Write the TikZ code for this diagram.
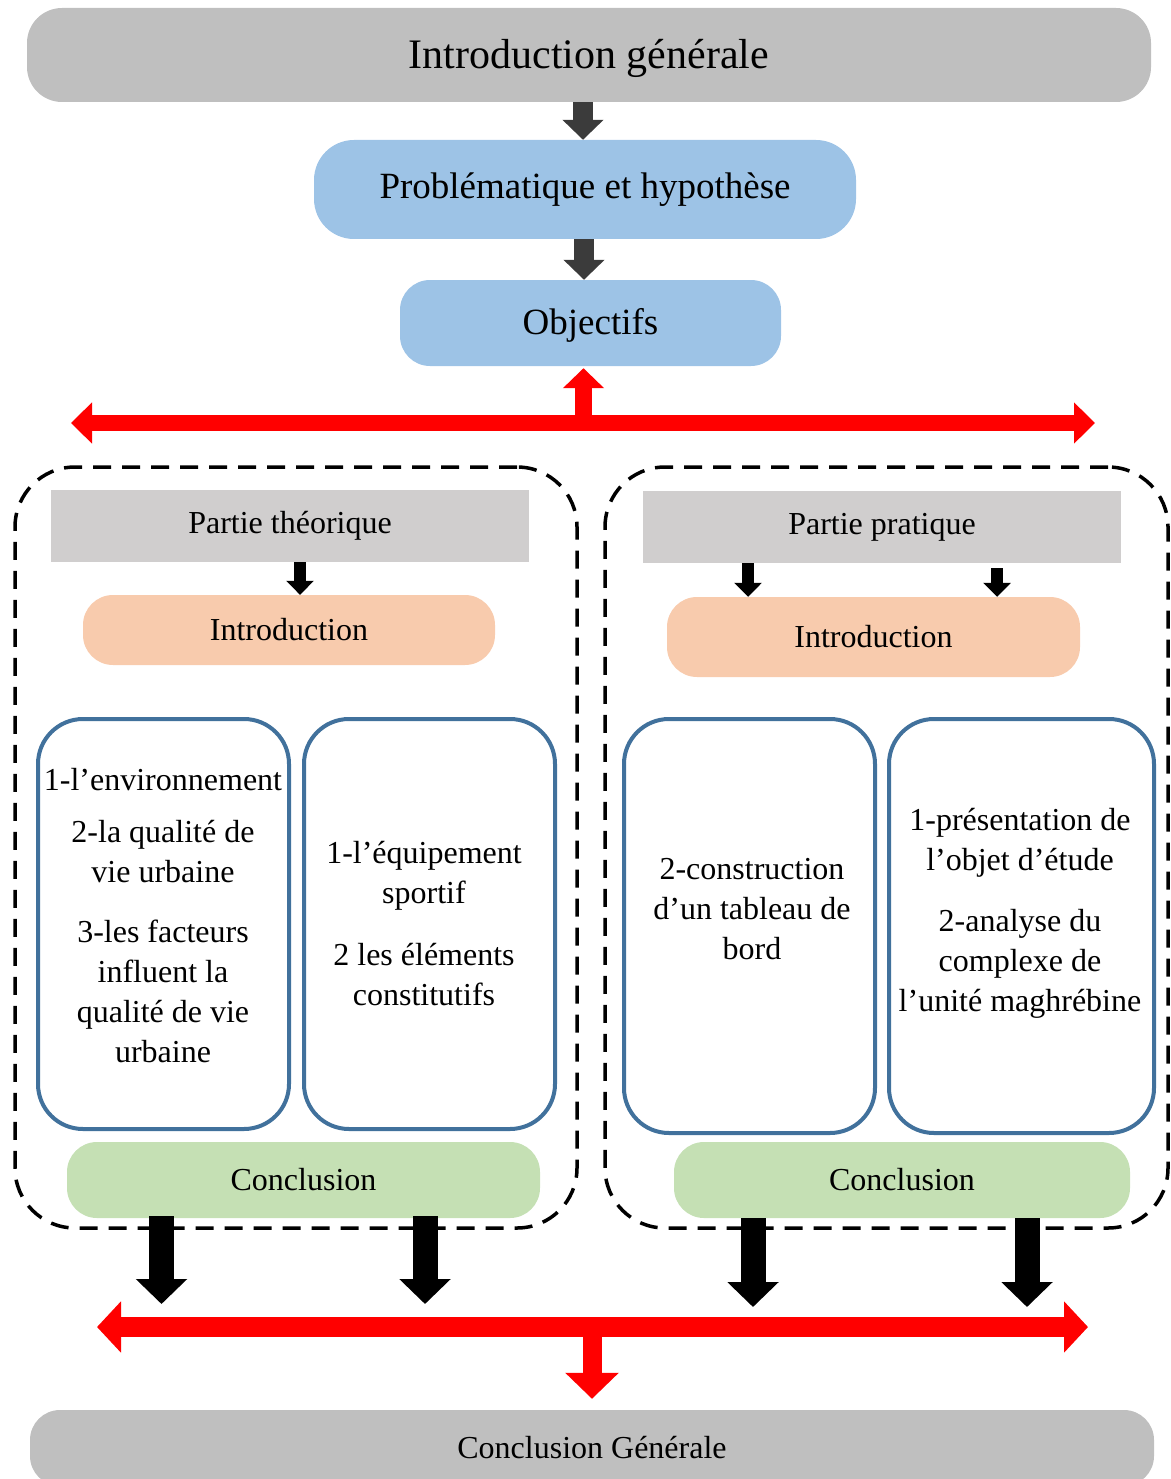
\documentclass[tikz,border=0pt]{standalone}
\usepackage{fontspec}
\setmainfont{Liberation Serif}
\usetikzlibrary{arrows.meta}
\definecolor{titlegray}{HTML}{BFBFBF}
\definecolor{lblue}{HTML}{9DC3E6}
\definecolor{pgray}{HTML}{D0CECE}
\definecolor{peach}{HTML}{F8CBAD}
\definecolor{lgreen}{HTML}{C5E0B4}
\definecolor{bstroke}{HTML}{41719C}
\definecolor{darkar}{HTML}{3B3B3B}
\definecolor{redar}{HTML}{FF0000}
\tikzset{
  fnt/.style={font=\fontsize{32}{40}\selectfont},
  txt/.style={fnt, align=center, inner sep=0pt},
  fillbox/.style={inner sep=0pt, text=black},
  darrow/.style={draw=darkar, line width=20pt, -{Triangle[length=20pt,width=40pt]}},
  smarrow/.style={draw=black, line width=12pt, -{Triangle[length=14pt,width=27pt]}},
  bigarrow/.style={draw=black, line width=25pt, -{Triangle[length=25pt,width=50pt]}},
  redup/.style={draw=redar, line width=17pt, -{Triangle[length=20pt,width=40pt]}},
  reddown/.style={draw=redar, line width=19pt, -{Triangle[length=26pt,width=52pt]}},
  dashbox/.style={draw=black, line width=3.5pt, dash pattern=on 18pt off 11pt, rounded corners=60pt, inner sep=0pt},
  bluebox/.style={draw=bstroke, line width=4pt, rounded corners=45pt, fill=white, inner sep=0pt},
}
\begin{document}
\begin{tikzpicture}[x=1pt,y=-1pt]
\useasboundingbox (0,0) rectangle (1170,1479);
% top boxes
\node[fillbox, fill=titlegray, rounded corners=35pt, minimum width=1124pt, minimum height=94pt,
      text height=37pt, text depth=9pt,
      font=\fontsize{42}{50}\selectfont] (title) at (589,55) {Introduction générale};
\node[fillbox, fill=lblue, rounded corners=40pt, minimum width=542pt, minimum height=99pt,
      font=\fontsize{37}{44}\selectfont] (prob) at (585,189.5) {Problématique et hypothèse};
\node[fillbox, fill=lblue, rounded corners=30pt, minimum width=381pt, minimum height=86pt,
      text height=30pt, text depth=8pt,
      font=\fontsize{37}{44}\selectfont] (obj) at (590.5,323) {Objectifs};
\draw[darrow] ([xshift=-6pt]title.south) -- ([xshift=-2pt]prob.north);
\draw[darrow] ([xshift=-1pt]prob.south) -- ([xshift=-6.5pt]obj.north);
% red top bar
\coordinate (rl) at (71,423);
\coordinate (rr) at (1095,423);
\coordinate (rm) at (583.5,420);
\draw[draw=redar, line width=16pt, {Triangle[length=21pt,width=40pt]}-{Triangle[length=21pt,width=40pt]}] (rl) -- (rr);
\draw[redup] (rm) -- ([xshift=-7pt,yshift=-2pt]obj.south);
% dashed frames
\node[dashbox, minimum width=562pt, minimum height=761pt] (leftf) at (296,847.5) {};
\node[dashbox, minimum width=563pt, minimum height=761pt] (rightf) at (886.5,847.5) {};
% left part
\node[fillbox, fill=pgray, minimum width=478pt, minimum height=72pt, fnt] (pth) at (290,526) {Partie théorique};
\node[fillbox, fill=peach, rounded corners=30pt, minimum width=412pt, minimum height=70pt, fnt] (intl) at (289,630) {Introduction};
\draw[smarrow] ([xshift=10pt]pth.south) -- ([xshift=11pt]intl.north);
\node[bluebox, minimum width=251pt, minimum height=410pt] (b1) at (163.5,924) {};
\node[bluebox, minimum width=251pt, minimum height=410pt] (b2) at (429.5,924) {};
\node[txt] (t1) at (163,916) {1-l’environnement\\[12pt]2-la qualité de\\vie urbaine\\[20pt]3-les facteurs\\influent la\\qualité de vie\\urbaine};
\node[txt] (t2) at (424,924) {1-l’équipement\\sportif\\[22pt]2 les éléments\\constitutifs};
\node[fillbox, fill=lgreen, rounded corners=30pt, minimum width=473pt, minimum height=76pt, fnt] (concl) at (303.5,1180) {Conclusion};
% right part
\node[fillbox, fill=pgray, minimum width=478pt, minimum height=72pt, fnt] (ppr) at (882,527) {Partie pratique};
\node[fillbox, fill=peach, rounded corners=30pt, minimum width=413pt, minimum height=80pt, fnt] (intr) at (873.5,637) {Introduction};
\coordinate (pa1) at (748,563);
\coordinate (pa2) at (997,568);
\draw[smarrow] (pa1) -- (pa1 |- intr.north);
\draw[smarrow] (pa2) -- (pa2 |- intr.north);
\node[bluebox, minimum width=251pt, minimum height=414pt] (b3) at (749.5,926) {};
\node[bluebox, minimum width=265pt, minimum height=414pt] (b4) at (1021.5,926) {};
\node[txt] (t3) at (752,909) {2-construction\\d’un tableau de\\bord};
\node[txt] (t4) at (1020,913) {1-présentation de\\l’objet d’étude\\[21pt]2-analyse du\\complexe de\\l’unité maghrébine};
\node[fillbox, fill=lgreen, rounded corners=30pt, minimum width=456pt, minimum height=76pt, fnt] (concr) at (902,1180) {Conclusion};
% bottom
\coordinate (bl) at (97,1327);
\coordinate (br) at (1088,1327);
\coordinate (bm) at (592,1330);
\node[fillbox, fill=titlegray, rounded corners=30pt, minimum width=1124pt, minimum height=76pt, fnt] (cg) at (592,1448) {Conclusion Générale};
\coordinate (a1) at (161.5,1216);
\coordinate (a2) at (425,1216);
\coordinate (a3) at (753,1218);
\coordinate (a4) at (1027,1218);
\coordinate (e1) at (161.5,1304);
\coordinate (e2) at (425,1304);
\coordinate (e3) at (753,1307);
\coordinate (e4) at (1027,1307);
\draw[bigarrow] (a1) -- (e1);
\draw[bigarrow] (a2) -- (e2);
\draw[bigarrow] (a3) -- (e3);
\draw[bigarrow] (a4) -- (e4);
\draw[draw=redar, line width=20pt, {Triangle[length=24pt,width=50pt]}-{Triangle[length=24pt,width=50pt]}] (bl) -- (br);
\draw[reddown] (bm) -- ([yshift=11pt]bm |- cg.north);
\end{tikzpicture}
\end{document}
